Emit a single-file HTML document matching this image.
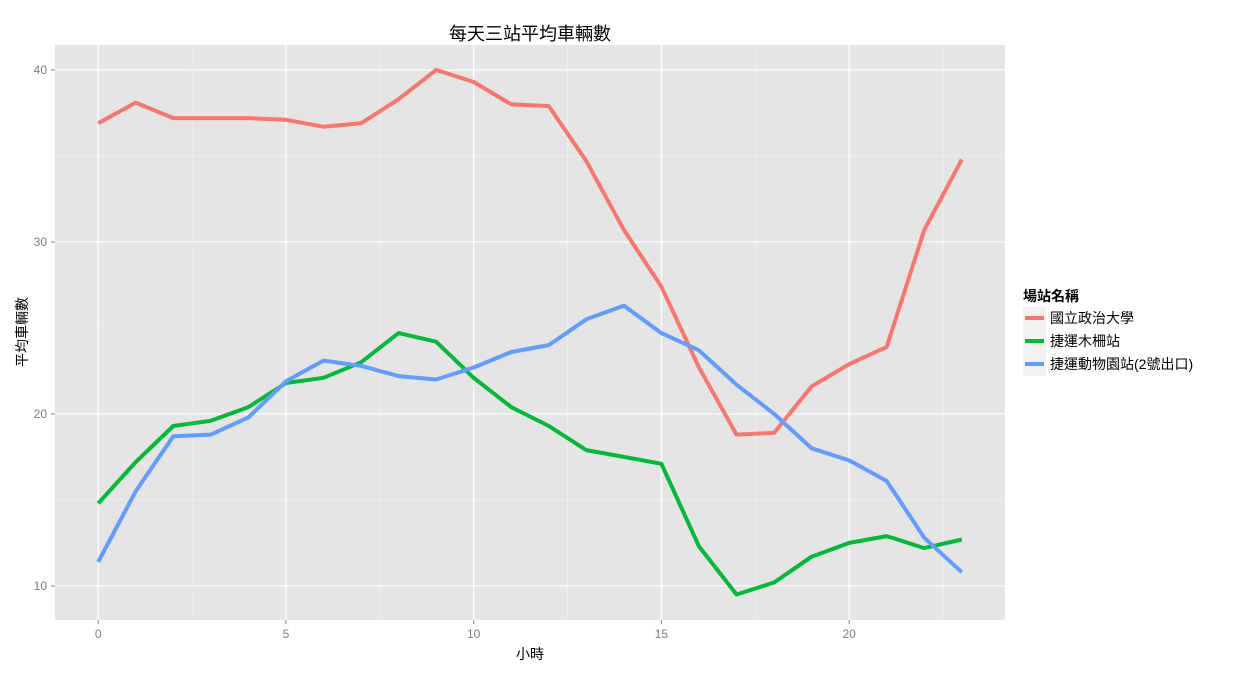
<!DOCTYPE html>
<html><head><meta charset="utf-8"><style>
body{margin:0;background:#fff;}
svg text{font-family:"Liberation Sans","Noto Sans CJK TC",sans-serif;}
</style></head><body>
<svg id="chart" width="1248" height="672" xmlns="http://www.w3.org/2000/svg"></svg>
<script>
const hours=[0,1,2,3,4,5,6,7,8,9,10,11,12,13,14,15,16,17,18,19,20,21,22,23];
const seriesNames=["國立政治大學","捷運木柵站","捷運動物園站(2號出口)"];
const seriesColors=["#F8766D","#00BA38","#619CFF"];
const redVals=[36.9,38.1,37.2,37.2,37.2,37.1,36.7,36.9,38.3,40.0,39.3,38.0,37.9,34.7,30.7,27.4,22.7,18.8,18.9,21.6,22.9,23.9,30.7,34.8];
const greenVals=[14.8,17.2,19.3,19.6,20.4,21.8,22.1,23.0,24.7,24.2,22.1,20.4,19.3,17.9,17.5,17.1,12.3,9.5,10.2,11.7,12.5,12.9,12.2,12.7];
const blueVals=[11.4,15.5,18.7,18.8,19.8,21.9,23.1,22.8,22.2,22.0,22.7,23.6,24.0,25.5,26.3,24.7,23.7,21.7,20.0,18.0,17.3,16.1,12.8,10.8];
const xTicks=[0,5,10,15,20];
const yTicks=[10,20,30,40];
const NS="http://www.w3.org/2000/svg";
const svg=document.getElementById('chart');
const L=55,R=1005,T=45,B=620;
const xMin=-1.15,xMax=24.15,yMin=8.02,yMax=41.45;
const xs=v=>L+(v-xMin)/(xMax-xMin)*(R-L);
const ys=v=>B-(v-yMin)/(yMax-yMin)*(B-T);
function mk(tag,attrs,parent){const e=document.createElementNS(NS,tag);for(const k in attrs)e.setAttribute(k,attrs[k]);(parent||svg).appendChild(e);return e;}
const panel=mk('rect',{x:L,y:T,width:R-L,height:B-T,fill:'#E5E5E5'});


for(let i=0;i<yTicks.length-1;i++){const v=(yTicks[i]+yTicks[i+1])/2;const g=mk('line',{x1:L,x2:R,y1:ys(v),y2:ys(v),stroke:'#F2F2F2','stroke-width':0.7});

}
for(let i=0;i<xTicks.length;i++){const v=xTicks[i]+2.5;const g=mk('line',{y1:T,y2:B,x1:xs(v),x2:xs(v),stroke:'#F2F2F2','stroke-width':0.7});

}
yTicks.forEach(v=>{const g=mk('line',{x1:L,x2:R,y1:ys(v),y2:ys(v),stroke:'#fff','stroke-width':1.2});


const t=mk('text',{x:L-8,y:ys(v)+4,'text-anchor':'end','font-size':12,fill:'#7F7F7F'});t.textContent=v;


const tk=mk('line',{x1:L-4,x2:L,y1:ys(v),y2:ys(v),stroke:'#7F7F7F'});

});
xTicks.forEach(v=>{const g=mk('line',{y1:T,y2:B,x1:xs(v),x2:xs(v),stroke:'#fff','stroke-width':1.2});


const t=mk('text',{x:xs(v),y:B+18,'text-anchor':'middle','font-size':12,fill:'#7F7F7F'});t.textContent=v;


const tk=mk('line',{x1:xs(v),x2:xs(v),y1:B,y2:B+4,stroke:'#7F7F7F'});

});
const allVals=[redVals,greenVals,blueVals];
const lineNames=['line-nccu','line-muzha','line-zoo'];
allVals.forEach((vals,i)=>{const d=vals.map((v,j)=>(j?'L':'M')+xs(hours[j]).toFixed(1)+','+ys(v).toFixed(1)).join(' ');
const p=mk('path',{d:d,fill:'none',stroke:seriesColors[i],'stroke-width':4,'stroke-linejoin':'round'});

});
const title=mk('text',{x:530,y:40,'text-anchor':'middle','font-size':18,fill:'#000'});title.textContent='每天三站平均車輛數';


const xt=mk('text',{x:530,y:659,'text-anchor':'middle','font-size':14,fill:'#000'});xt.textContent='小時';


const yt=mk('text',{x:0,y:0,'text-anchor':'middle','font-size':14,fill:'#000',transform:'translate(27,332) rotate(-90)'});yt.textContent='平均車輛數';


const lt=mk('text',{x:1023,y:301,'font-size':14,'font-weight':'bold',fill:'#000'});lt.textContent='場站名稱';


seriesNames.forEach((n,i)=>{const y=318+i*23;
const bg=mk('rect',{x:1023,y:y-11,width:23,height:23,fill:'#F2F2F2'});


const ln=mk('line',{x1:1025,x2:1044,y1:y,y2:y,stroke:seriesColors[i],'stroke-width':4});


const t=mk('text',{x:1050,y:y+5,'font-size':14,fill:'#000'});t.textContent=n;

});
</script>
</body></html>
